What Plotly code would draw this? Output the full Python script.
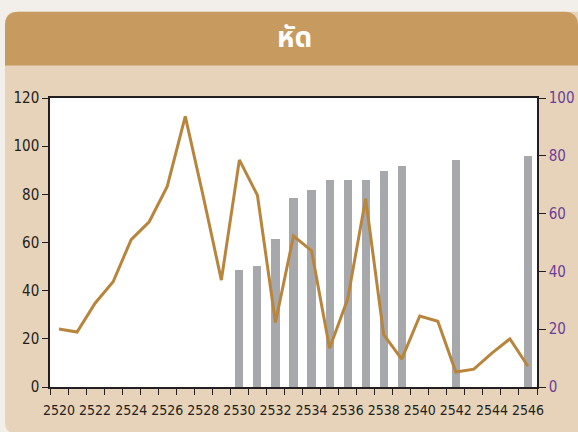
import plotly.graph_objects as go

# ---- data ----
years = list(range(2520, 2547))
incidence = [24.1, 22.8, 34.8, 43.7, 61.2, 68.6, 83.3, 112.4, 79.0, 44.4,
             94.3, 79.6, 26.8, 62.7, 56.6, 16.1, 36.4, 78.2, 21.7, 11.6,
             29.5, 27.3, 6.2, 7.4, 14.1, 20.0, 8.6]
bar_years = [2530, 2531, 2532, 2533, 2534, 2535, 2536, 2537, 2538, 2539, 2542, 2546]
coverage = [40.5, 41.8, 51.1, 65.3, 68.0, 71.5, 71.5, 71.5, 74.6, 76.3, 78.4, 79.8]
x_ticks = list(range(2520, 2547, 2))
left_ticks = [0, 20, 40, 60, 80, 100, 120]
right_ticks = [0, 20, 40, 60, 80, 100]
title_text = "หัด"

W, H = 578, 432
L, R, T, B = 50, 537, 97.5, 387


def px(x):
    return (x - L) / (R - L)


def py(y):
    return (B - y) / (B - T)


def rounded_path(x0, y0, x1, y1, r, corners):
    tl, tr, br, bl = corners
    d = ""
    if tl:
        d += f"M {px(x0)},{py(y0 + r)} Q {px(x0)},{py(y0)} {px(x0 + r)},{py(y0)} "
    else:
        d += f"M {px(x0)},{py(y0)} "
    if tr:
        d += f"L {px(x1 - r)},{py(y0)} Q {px(x1)},{py(y0)} {px(x1)},{py(y0 + r)} "
    else:
        d += f"L {px(x1)},{py(y0)} "
    if br:
        d += f"L {px(x1)},{py(y1 - r)} Q {px(x1)},{py(y1)} {px(x1 - r)},{py(y1)} "
    else:
        d += f"L {px(x1)},{py(y1)} "
    if bl:
        d += f"L {px(x0 + r)},{py(y1)} Q {px(x0)},{py(y1)} {px(x0)},{py(y1 - r)} "
    else:
        d += f"L {px(x0)},{py(y1)} "
    d += "Z"
    return d


fig = go.Figure()

fig.add_trace(go.Bar(
    x=bar_years, y=coverage, width=0.45,
    marker=dict(color="#A7A8AC", line=dict(width=0)),
    yaxis="y", xaxis="x", showlegend=False, hoverinfo="skip",
))
fig.add_trace(go.Scatter(
    x=years, y=incidence, mode="lines",
    line=dict(color="#B9853C", width=3),
    yaxis="y2", xaxis="x", showlegend=False, hoverinfo="skip",
))

FONT = "DejaVu Sans Condensed, Liberation Sans Narrow, Liberation Sans, sans-serif"
tick_font = dict(family=FONT, size=14, color="#231F20")

shapes = [
    dict(type="path", xref="paper", yref="paper", layer="below",
         path=rounded_path(5, 11, 600, 434, 12, (True, True, False, True)),
         fillcolor="#E7D3B9", line=dict(width=0)),
    dict(type="path", xref="paper", yref="paper", layer="below",
         path=rounded_path(5, 11, 578, 65, 14, (True, True, False, False)),
         fillcolor="#C79A5F", line=dict(width=0)),
    dict(type="rect", xref="paper", yref="paper", layer="below",
         x0=0, y0=0, x1=1, y1=1, fillcolor="white", line=dict(width=0)),
]

fig.update_layout(
    width=W, height=H,
    margin=dict(l=L, r=W - R, t=T, b=H - B, pad=0, autoexpand=False),
    paper_bgcolor="#F2EFEA",
    plot_bgcolor="white",
    bargap=0,
    shapes=shapes,
    annotations=[dict(
        text=f"<b>{title_text}</b>", xref="paper", yref="paper",
        x=px(294), y=py(38), xanchor="center", yanchor="middle", showarrow=False,
        font=dict(family="Noto Sans Thai, Noto Sans, Loma, sans-serif", size=28, color="white"),
    )],
    xaxis=dict(
        range=[2519.5, 2546.5], tickmode="array", tickvals=x_ticks,
        ticktext=[str(v) for v in x_ticks], ticks="", tickangle=0, automargin=False,
        ticklabelstandoff=9,
        showgrid=False, zeroline=False,
        showline=True, linecolor="#231F20", linewidth=1.5, mirror=True,
        tickfont=tick_font,
        minor=dict(tickmode="linear", tick0=2519.5, dtick=1, ticks="outside",
                   ticklen=6, tickcolor="#231F20", tickwidth=1.3, showgrid=False),
    ),
    yaxis=dict(
        range=[0, 100], side="right", tickmode="array", tickvals=right_ticks,
        ticks="outside", ticklen=7, tickcolor="#231F20", tickwidth=1.2, automargin=False,
        showgrid=False, zeroline=False,
        showline=True, linecolor="#231F20", linewidth=1.5,
        tickfont=dict(family=FONT, size=15, color="#6B3E99"),
    ),
    yaxis2=dict(
        range=[0, 120], side="left", overlaying="y", tickmode="array", tickvals=left_ticks,
        ticks="outside", ticklen=6, tickcolor="#231F20", tickwidth=1.2, automargin=False,
        showgrid=False, zeroline=False,
        showline=True, linecolor="#231F20", linewidth=1.5,
        tickfont=dict(family=FONT, size=15, color="#231F20"),
    ),
)

fig.write_html(
    "out.html",
    config={"displayModeBar": False},
    post_script="document.body.style.margin='0';document.body.style.padding='0';",
)
